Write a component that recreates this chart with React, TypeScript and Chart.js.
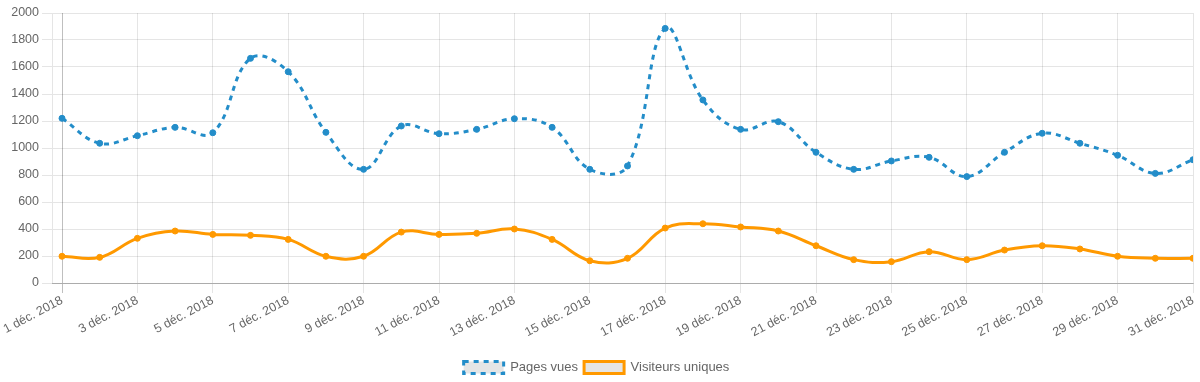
import React, { useEffect, useRef } from "react";
import { Chart, registerables } from "chart.js";

Chart.register(...registerables);

const days: number[] = [
  1, 2, 3, 4, 5, 6, 7, 8, 9, 10, 11, 12, 13, 14, 15, 16,
  17, 18, 19, 20, 21, 22, 23, 24, 25, 26, 27, 28, 29, 30, 31,
];
const dayLabels: string[] = days.map((d) => `${d} déc. 2018`);
const tickDays: number[] = [1, 3, 5, 7, 9, 11, 13, 15, 17, 19, 21, 23, 25, 27, 29, 31];

const pagesVues: number[] = [
  1220, 1035, 1091, 1153, 1113, 1664, 1565, 1116, 842, 1163, 1106, 1138, 1217, 1153, 842, 867,
  1886, 1356, 1138, 1195, 968, 842, 904, 931, 788, 968, 1109, 1035, 946, 812, 913,
];
const visiteursUniques: number[] = [
  198, 190, 331, 385, 360, 353, 323, 198, 198, 377, 360, 368, 400, 323, 165, 183,
  407, 439, 415, 385, 276, 173, 158, 232, 173, 244, 276, 252, 198, 183, 183,
];

const BLUE = "#238dc9";
const ORANGE = "#ff9900";
const FONT = "'Liberation Sans', Arial, Helvetica, sans-serif";

export default function App() {
  const ref = useRef<HTMLCanvasElement | null>(null);
  useEffect(() => {
    document.body.style.margin = "0";
    const canvas = ref.current;
    if (!canvas) return;
    Chart.defaults.font.family = FONT;
    Chart.defaults.font.size = 12.5;
    Chart.defaults.color = "#666";
    const chart = new Chart(canvas, {
      type: "line",
      data: {
        datasets: [
          {
            label: "Pages vues",
            data: days.map((d, i) => ({ x: d, y: pagesVues[i] })),
            borderColor: BLUE,
            backgroundColor: "rgba(0,0,0,0.1)",
            pointBackgroundColor: BLUE,
            pointBorderColor: BLUE,
            borderWidth: 3,
            borderDash: [5, 5],
            pointRadius: 3,
            pointBorderWidth: 1,
            tension: 0.4,
            fill: false,
          },
          {
            label: "Visiteurs uniques",
            data: days.map((d, i) => ({ x: d, y: visiteursUniques[i] })),
            borderColor: ORANGE,
            backgroundColor: "rgba(0,0,0,0.1)",
            pointBackgroundColor: ORANGE,
            pointBorderColor: ORANGE,
            borderWidth: 3,
            pointRadius: 3,
            pointBorderWidth: 1,
            tension: 0.4,
            fill: false,
          },
        ],
      },
      options: {
        animation: false,
        responsive: false,
        layout: { padding: { top: 13, right: 7, left: 0, bottom: -2 } },
        plugins: {
          legend: {
            position: "bottom",
            labels: { boxWidth: 40, boxHeight: 12, padding: 6, color: "#666", font: { size: 13 } },
          },
          tooltip: { enabled: false },
        },
        scales: {
          x: {
            type: "linear",
            min: 1 - 10 / 37.7,
            max: 31,
            afterBuildTicks: (scale: any) => {
              scale.ticks = tickDays.map((v) => ({ value: v }));
            },
            afterFit: (scale: any) => {
              scale.height = 72;
              scale.paddingRight = 0;
              scale.paddingLeft = 0;
            },
            ticks: {
              autoSkip: false,
              minRotation: 28,
              maxRotation: 28,
              padding: 0,
              callback: (v: any) => dayLabels[Number(v) - 1] ?? "",
              color: "#666",
            },
            grid: {
              color: (ctx: any) =>
                ctx.tick && ctx.tick.value === 1 ? "rgba(0,0,0,0.25)" : "rgba(0,0,0,0.1)",
              tickLength: 10,
            },
            border: { color: "rgba(0,0,0,0.25)" },
          },
          y: {
            min: 0,
            max: 2000,
            ticks: { stepSize: 200, color: "#666", callback: (v: any) => String(v) },
            afterFit: (scale: any) => {
              scale.width = 52;
              scale.paddingTop = 0;
              scale.paddingBottom = 0;
            },
            grid: { color: "rgba(0,0,0,0.1)", tickLength: 10 },
            border: { color: "rgba(0,0,0,0.1)" },
          },
        },
      },
    } as any);
    return () => chart.destroy();
  }, []);
  return (
    <div style={{ width: 1200, height: 382 }}>
      <canvas ref={ref} width={1200} height={382} style={{ display: "block" }} />
    </div>
  );
}
